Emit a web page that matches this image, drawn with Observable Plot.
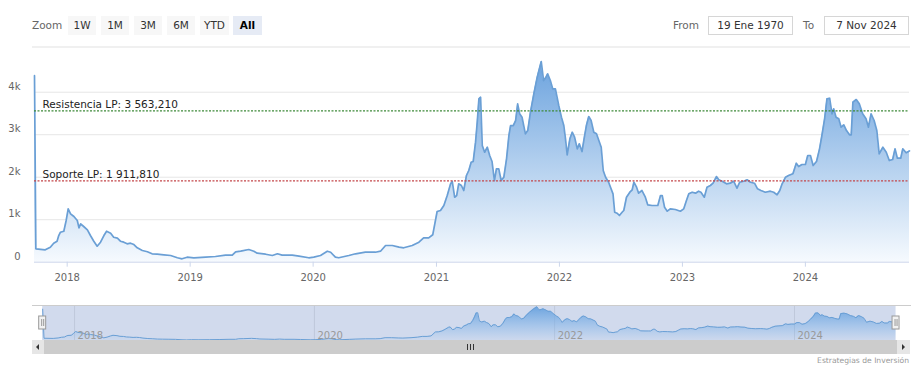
<!DOCTYPE html>
<html><head><meta charset="utf-8">
<script src="https://cdn.jsdelivr.net/npm/d3@7"></script>
<script src="https://cdn.jsdelivr.net/npm/@observablehq/plot@0.6"></script>
<style>
body{margin:0;background:#fff;font-family:"DejaVu Sans",sans-serif;}
#root{position:relative;width:919px;height:373px;overflow:hidden;background:#fff;}
.a{position:absolute;}
.btn{position:absolute;top:16px;height:19px;line-height:19px;background:#f7f7f7;color:#333;font-size:10.5px;text-align:center;}
.btn.sel{background:#e6ebf5;color:#000;font-weight:bold;}
.lbl{position:absolute;top:16px;height:19px;line-height:19px;color:#666;font-size:10.5px;}
.box{position:absolute;top:16px;height:17px;line-height:17px;border:1px solid #d6d6d6;background:#fff;color:#333;font-size:10.5px;text-align:center;}
</style></head><body><div id="root"></div>
<script>
// ---- data ----
const dates = ["2017-09-26","2017-09-30","2017-10-28","2017-11-12","2017-11-22","2017-12-02","2017-12-07","2017-12-12","2017-12-22","2017-12-29",
"2018-01-04","2018-01-11","2018-01-21","2018-01-31","2018-02-05","2018-02-10","2018-02-19","2018-03-02","2018-03-11","2018-03-21","2018-03-31",
"2018-04-10","2018-04-20","2018-04-28","2018-05-10","2018-05-19","2018-05-30","2018-06-08","2018-06-18","2018-06-28","2018-07-08","2018-07-18",
"2018-07-28","2018-08-12","2018-08-27","2018-09-10","2018-09-25","2018-10-15","2018-11-04","2018-11-24","2018-12-08","2018-12-23",
"2019-01-12","2019-02-16","2019-03-17","2019-04-16","2019-05-06","2019-05-16","2019-05-31","2019-06-24","2019-07-09","2019-07-19","2019-08-13",
"2019-09-02","2019-09-17","2019-10-01","2019-10-31","2019-11-20","2019-12-19",
"2020-01-03","2020-01-23","2020-02-12","2020-02-22","2020-03-07","2020-03-17","2020-04-16","2020-05-06","2020-06-04","2020-07-04","2020-07-19",
"2020-08-03","2020-08-23","2020-09-12","2020-09-26","2020-10-21","2020-11-10","2020-11-24","2020-12-09","2020-12-21",
"2021-01-03","2021-01-13","2021-01-23","2021-02-02","2021-02-12","2021-02-17","2021-02-24","2021-03-02","2021-03-08","2021-03-16","2021-03-23",
"2021-03-31","2021-04-07","2021-04-14","2021-04-20","2021-04-27","2021-05-02","2021-05-07","2021-05-12","2021-05-17","2021-05-24","2021-06-01",
"2021-06-08","2021-06-15","2021-06-22","2021-06-28","2021-07-05","2021-07-12","2021-07-20","2021-07-28","2021-08-04","2021-08-09","2021-08-17",
"2021-08-24","2021-08-30","2021-09-05","2021-09-12","2021-09-22","2021-09-29","2021-10-07","2021-10-17","2021-10-27","2021-11-08","2021-11-15",
"2021-11-22","2021-11-27","2021-12-05","2021-12-12","2021-12-20","2021-12-30",
"2022-01-07","2022-01-14","2022-01-19","2022-01-24","2022-02-01","2022-02-08","2022-02-15","2022-02-23","2022-03-01","2022-03-09","2022-03-16",
"2022-03-22","2022-03-29","2022-04-05","2022-04-13","2022-04-21","2022-04-28","2022-05-05","2022-05-11","2022-05-18","2022-05-27","2022-06-09",
"2022-06-14","2022-06-21","2022-06-28","2022-07-06","2022-07-11","2022-07-19","2022-07-29","2022-08-05","2022-08-10","2022-08-18","2022-08-24",
"2022-09-03","2022-09-13","2022-09-20","2022-10-03","2022-10-13","2022-10-20","2022-10-28","2022-11-02","2022-11-09","2022-11-17","2022-11-26",
"2022-12-11","2022-12-26",
"2023-01-05","2023-01-13","2023-01-20","2023-01-30","2023-02-09","2023-02-18","2023-02-25","2023-03-07","2023-03-15","2023-03-25","2023-04-02",
"2023-04-12","2023-04-19","2023-04-29","2023-05-12","2023-05-23","2023-06-02","2023-06-12","2023-06-20","2023-07-02","2023-07-12","2023-07-22",
"2023-08-03","2023-08-12","2023-08-22","2023-09-04","2023-09-19","2023-09-29","2023-10-09","2023-10-17","2023-10-24","2023-11-03","2023-11-12",
"2023-11-25","2023-12-05","2023-12-12","2023-12-22",
"2024-01-01","2024-01-08","2024-01-16","2024-01-24","2024-02-03","2024-02-12","2024-02-19","2024-02-27","2024-03-05","2024-03-13","2024-03-20",
"2024-03-25","2024-04-01","2024-04-09","2024-04-16","2024-04-24","2024-05-02","2024-05-11","2024-05-16","2024-05-21","2024-05-31","2024-06-09",
"2024-06-19","2024-06-29","2024-07-06","2024-07-14","2024-07-23","2024-07-31","2024-08-07","2024-08-18","2024-08-28","2024-09-06","2024-09-16",
"2024-09-23","2024-09-30","2024-10-10","2024-10-16","2024-10-26","2024-11-02","2024-11-05"];
const prices = [4390,315,292,353,447,494,628,706,729,981,
1256,1139,1075,981,809,903,840,762,628,494,376,
471,628,729,682,588,565,494,471,433,447,416,
339,275,245,198,188,174,158,104,80,118,
104,118,134,165,165,245,259,299,259,212,188,
158,198,165,165,141,104,
118,158,259,235,118,104,158,198,235,235,259,
393,393,353,339,393,471,574,574,645,
1193,1216,1334,1569,1845,1899,1529,1569,1845,1805,1687,
2040,2158,2353,2369,2824,3294,3845,3882,2746,2588,2706,
2511,2369,1922,2196,2196,1922,2000,2432,2980,3216,3216,
3334,3727,3491,3412,3021,3098,3529,3962,4353,4722,4275,
4353,4432,4275,4080,4080,3687,
3412,3216,2904,2527,2904,3059,2941,2668,2786,2605,2941,
3216,3428,3334,3059,3021,2864,2706,2158,2000,1882,1609,
1176,1153,1099,1176,1216,1529,1647,1704,1882,1765,1624,
1687,1529,1351,1334,1334,1334,1569,1569,1294,1200,1256,
1240,1200,
1256,1452,1609,1647,1624,1671,1647,1529,1765,1805,1859,
2016,1939,1906,1845,1859,1906,1741,1882,1906,1939,1882,
1859,1727,1687,1647,1671,1647,1586,1687,1845,2000,2040,
2080,2330,2252,2299,
2299,2511,2511,2275,2369,2668,2981,3374,3845,3859,3491,
3609,3412,3374,3176,3233,3098,2997,2997,3765,3828,3727,
3491,3374,3176,3491,3334,3098,2551,2706,2588,2393,2416,
2668,2447,2447,2668,2574,2605,2620];
const levelNames = ["Resistencia LP", "Soporte LP"];
const levelValues = [3563.21, 1911.81];
const levelColors = ["#3f8a3a", "#c4474a"];
const yTicks = [0, 1000, 2000, 3000, 4000];
const zoomButtons = ["1W", "1M", "3M", "6M", "YTD", "All"];
const fromText = "19 Ene 1970", toText = "7 Nov 2024";
const creditText = "Estrategias de Inversión";
const mainDomain = ["2017-09-26", "2024-11-05"];
const navDomain = ["2017-08-26", "2024-12-19"];

// ---- build ----
const parse = d3.utcParse("%Y-%m-%d");
const data = dates.map((d, i) => ({date: parse(d), price: prices[i]}));
const levels = levelNames.map((n, i) => ({name: n, value: levelValues[i], color: levelColors[i]}));
const esFmt = d3.formatLocale({decimal: ",", thousands: " ", grouping: [3], currency: ["", ""]}).format(",.3f");
const kfmt = d => d === 0 ? "0" : `${d / 1000}k`;
const first = data[0].date, last = data[data.length - 1].date;
const font = '"DejaVu Sans", sans-serif';

const defs = (id, c0, c1) => () => {
  const g = document.createElementNS("http://www.w3.org/2000/svg", "g");
  g.innerHTML = `<defs><linearGradient id="${id}" x1="0" y1="0" x2="0" y2="1"><stop offset="0" stop-color="${c0}"/><stop offset="1" stop-color="${c1}"/></linearGradient></defs>`;
  return g;
};

const xMain = mainDomain.map(parse);
const yearTicks = d3.utcYear.range(xMain[0], xMain[1]);

const main = Plot.plot({
  width: 919, height: 250,
  marginLeft: 34, marginRight: 10, marginTop: 8.6, marginBottom: 35.3,
  style: {fontFamily: font, background: "transparent", overflow: "visible"},
  x: {type: "utc", domain: xMain, label: null},
  y: {domain: [0, 4850], label: null},
  marks: [
    defs("gMain", "rgb(108,163,222)", "rgb(246,250,254)"),
    Plot.gridY(yTicks.filter(t => t > 0), {stroke: "#e6e6e6", strokeOpacity: 1}),
    Plot.areaY(data, {x: "date", y: "price", fill: "url(#gMain)"}),
    Plot.lineY(data, {x: "date", y: "price", stroke: "#6a9fd5", strokeWidth: 1.7}),
    Plot.ruleY([0], {stroke: "#ccd6eb"}),
    ...levels.map(l => Plot.ruleY([l.value], {stroke: l.color, strokeDasharray: "2,1.5", strokeWidth: 1.2})),
    Plot.text(levels, {y: "value", text: d => `${d.name}: ${esFmt(d.value)}`, frameAnchor: "left", textAnchor: "start",
      dx: 8, dy: -6.5, fill: "#222", fontSize: 10.5}),
    Plot.axisY(yTicks, {tickSize: 0, tickPadding: 14, dy: -5.5, tickFormat: kfmt, fill: "#666", fontSize: 10, label: null}),
    Plot.axisX(yearTicks, {tickSize: 5, tickPadding: 7, tickFormat: d3.utcFormat("%Y"), stroke: "#ccd6eb", fill: "#666", fontSize: 10, label: null})
  ]
});

const xNav = navDomain.map(parse);
const navTicks = d3.utcYear.every(2).range(xNav[0], xNav[1]);
const nav = Plot.plot({
  width: 919, height: 60,
  marginLeft: 32, marginRight: 9, marginTop: 8, marginBottom: 17,
  style: {fontFamily: font, background: "transparent", overflow: "visible"},
  x: {type: "utc", domain: xNav, label: null, axis: null},
  y: {domain: [0, 4900], label: null, axis: null},
  marks: [
    defs("gNav", "rgb(108,163,222)", "rgba(124,181,236,0.05)"),
    Plot.ruleX(navTicks, {stroke: "#e6e6e6"}),
    Plot.rect([[first, last]], {x1: d => d[0], x2: d => d[1], fill: "rgba(102,133,194,0.3)"}),
    Plot.areaY(data, {x: "date", y: "price", fill: "url(#gNav)"}),
    Plot.lineY(data, {x: "date", y: "price", stroke: "#6a9fd5", strokeWidth: 1}),
    Plot.text(navTicks, {x: d => d, text: d3.utcFormat("%Y"), frameAnchor: "bottom", lineAnchor: "bottom", textAnchor: "start",
      dx: 3, dy: -2, fill: "#999", fontSize: 10}),
    Plot.frame({anchor: "top", stroke: "#cccccc"}),
    Plot.rect([first, last], {x1: d => d, x2: d => d, insetLeft: -3.5, insetRight: -3.5, insetTop: 11, insetBottom: 11,
      fill: "#f2f2f2", stroke: "#999"}),
    Plot.ruleX([first, last], {dx: -1, insetTop: 14, insetBottom: 14, stroke: "#999"}),
    Plot.ruleX([first, last], {dx: 1, insetTop: 14, insetBottom: 14, stroke: "#999"})
  ]
});

const root = document.getElementById("root");
function add(html) { root.insertAdjacentHTML("beforeend", html); }

// header
add(`<div class="lbl" style="left:32px">Zoom</div>`);
const btnLefts = [68, 101, 134, 167, 200, 233];
zoomButtons.forEach((b, i) => add(`<div class="btn${b === "All" ? " sel" : ""}" style="left:${btnLefts[i]}px;width:${b === "YTD" || b === "All" ? 29 : 28}px">${b}</div>`));
add(`<div class="lbl" style="left:673px">From</div>`);
add(`<div class="box" style="left:708px;width:83px">${fromText}</div>`);
add(`<div class="lbl" style="left:803px">To</div>`);
add(`<div class="box" style="left:824px;width:83px">${toText}</div>`);
add(`<div class="a" style="left:32px;top:46px;width:878px;height:2px;background:#f0f0f0"></div>`);

const mw = document.createElement("div"); mw.className = "a"; mw.style.left = "0px"; mw.style.top = "47px"; mw.appendChild(main); root.appendChild(mw);
const nw = document.createElement("div"); nw.className = "a"; nw.style.left = "0px"; nw.style.top = "297px"; nw.appendChild(nav); root.appendChild(nw);

// scrollbar
add(`<div class="a" style="left:32px;top:340px;width:878px;height:14px;background:#f2f2f2"></div>`);
add(`<div class="a" style="left:44px;top:340px;width:853px;height:14px;background:#cccccc"></div>`);
add(`<div class="a" style="left:32px;top:340px;width:12px;height:14px;background:#e6e6e6"></div>`);
add(`<div class="a" style="left:897px;top:340px;width:13px;height:14px;background:#e6e6e6"></div>`);
add(`<div class="a" style="left:36px;top:344px;width:0;height:0;border-top:3px solid transparent;border-bottom:3px solid transparent;border-right:3px solid #333"></div>`);
add(`<div class="a" style="left:902px;top:344px;width:0;height:0;border-top:3px solid transparent;border-bottom:3px solid transparent;border-left:3px solid #333"></div>`);
[467, 470, 473].forEach(x => add(`<div class="a" style="left:${x}px;top:344px;width:1px;height:6px;background:#333"></div>`));

// credits
add(`<div class="a" style="right:10px;top:355px;font-size:7.6px;color:#999;line-height:11px">${creditText}</div>`);
</script></body></html>
